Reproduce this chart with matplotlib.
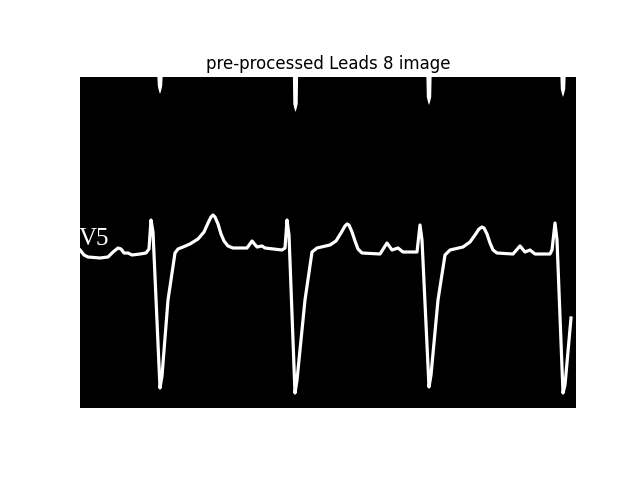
import matplotlib

matplotlib.use("Agg")
import matplotlib.pyplot as plt
import numpy as np

IMG_W, IMG_H = 496, 331

# trace of lead V5, in image pixel coordinates (x to the right, y downward)
trace_x = [0, 4, 8, 20, 28, 33, 38, 41, 44, 48, 52, 60, 66, 69, 71, 73, 80, 82, 88, 95,
           98, 103, 110, 118, 124, 128, 131, 133, 135, 138, 141, 144, 148, 153, 167, 172, 177, 182, 185, 202,
           205, 207, 209, 215, 217, 225, 232, 237, 250, 256, 261, 265, 267, 269, 272, 275, 278, 282, 300, 307,
           312, 318, 323, 337, 340, 342, 349, 351, 358, 365, 370, 383, 390, 395, 399, 402, 404, 407, 410, 413,
           417, 433, 440, 445, 450, 455, 470, 472, 475, 477, 483, 485, 491]
trace_y = [173, 178, 180, 181, 180, 175, 171, 172, 176, 176, 178, 177, 176, 172, 143, 155, 311, 299, 223, 176,
           172, 170, 167, 162, 155, 146, 140, 138, 140, 147, 157, 164, 169, 171, 171, 164, 170, 169, 171, 173,
           171, 143, 158, 316, 303, 223, 175, 171, 168, 164, 156, 149, 147, 148, 155, 164, 172, 176, 177, 166,
           173, 171, 175, 175, 148, 163, 310, 298, 223, 178, 173, 170, 165, 158, 152, 150, 151, 157, 166, 173,
           176, 177, 169, 175, 173, 177, 177, 173, 146, 163, 316, 308, 241]

# tails of the lead above, reaching in from the top edge
tail_x = [80, 215.5, 349, 483]
tail_depth = [17, 35, 28, 20]

fig = plt.figure(figsize=(6.4, 4.8), dpi=100)
ax = fig.add_axes([80 / 640, 72 / 480, IMG_W / 640, IMG_H / 480])
ax.imshow(np.zeros((IMG_H, IMG_W)), cmap="gray", vmin=0, vmax=1,
          extent=(0, IMG_W, IMG_H, 0), aspect="auto")

ax.plot(trace_x, trace_y, color="white", lw=2.3, solid_joinstyle="round")

for cx, d in zip(tail_x, tail_depth):
    ax.fill([cx - 2.6, cx + 2.6, cx + 2.2, cx + 1, cx, cx - 1, cx - 2.2],
            [0, 0, d - 8, d - 3, d, d - 3, d - 8], color="white", lw=0)

ax.text(-1.5, 168, "V5", color="white", fontsize=18, family="Liberation Serif",
        ha="left", va="baseline", clip_on=True)

ax.set_xlim(0, IMG_W)
ax.set_ylim(IMG_H, 0)
ax.set_title("pre-processed Leads 8 image")
ax.axis("off")

fig.savefig("out.png")
